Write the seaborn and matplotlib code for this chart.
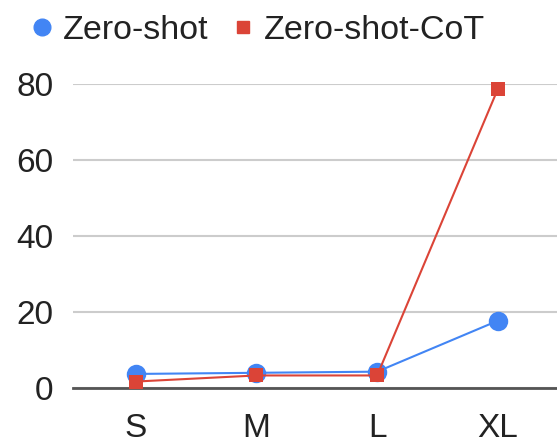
import matplotlib
matplotlib.use("Agg")
import matplotlib.pyplot as plt
from matplotlib.lines import Line2D
import pandas as pd
import seaborn as sns

sizes = ["S", "M", "L", "XL"]
zero_shot = [3.7, 4.0, 4.3, 17.7]
zero_shot_cot = [1.7, 3.3, 3.3, 78.7]
series_names = ["Zero-shot", "Zero-shot-CoT"]
y_ticks = [0, 20, 40, 60, 80]

BLUE = "#4285F4"
RED = "#DB4437"

df = pd.DataFrame({
    "size": sizes * 2,
    "accuracy": zero_shot + zero_shot_cot,
    "method": [series_names[0]] * len(sizes) + [series_names[1]] * len(sizes),
})

sns.set_theme(style="white")
plt.rcParams["font.family"] = ["Liberation Sans", "DejaVu Sans"]

fig = plt.figure(figsize=(5.57, 4.44), dpi=100)
ax = fig.add_axes([73 / 557, 56 / 444, 484 / 557, 304 / 444])

sns.lineplot(
    data=df, x="size", y="accuracy", hue="method", style="method",
    palette={series_names[0]: BLUE, series_names[1]: RED},
    markers={series_names[0]: "o", series_names[1]: "s"},
    dashes=False, linewidth=1.5, ax=ax, legend=False, clip_on=False,
)
# marker sizes per series
for line, ms in zip(ax.get_lines(), [14, 10]):
    line.set_markersize(ms)
    line.set_markeredgewidth(0)

ax.set_xlim(-0.52, 3.49)
ax.set_ylim(0, 80)
ax.set_yticks(y_ticks)
ax.set_xlabel("")
ax.set_ylabel("")
ax.grid(axis="y", color="#cccccc", linewidth=1.5)
ax.set_axisbelow(True)
for side in ["top", "right", "left"]:
    ax.spines[side].set_visible(False)
ax.spines["bottom"].set_color("#555555")
ax.spines["bottom"].set_linewidth(2)
ax.spines["bottom"].set_zorder(1)
ax.tick_params(axis="x", length=0, pad=18, labelsize=24, labelcolor="#222222")
ax.tick_params(axis="y", length=0, pad=14, labelsize=24, labelcolor="#222222")

handles = [
    Line2D([], [], color=BLUE, marker="o", linestyle="none", markersize=12),
    Line2D([], [], color=RED, marker="s", linestyle="none", markersize=9),
]
fig.legend(handles, series_names, loc="upper left", bbox_to_anchor=(-0.01, 1.035),
           ncol=2, frameon=False, fontsize=24.5, handletextpad=0.12,
           columnspacing=0.5, handlelength=1.0, labelcolor="#222222")

fig.savefig("out.png", dpi=100)
